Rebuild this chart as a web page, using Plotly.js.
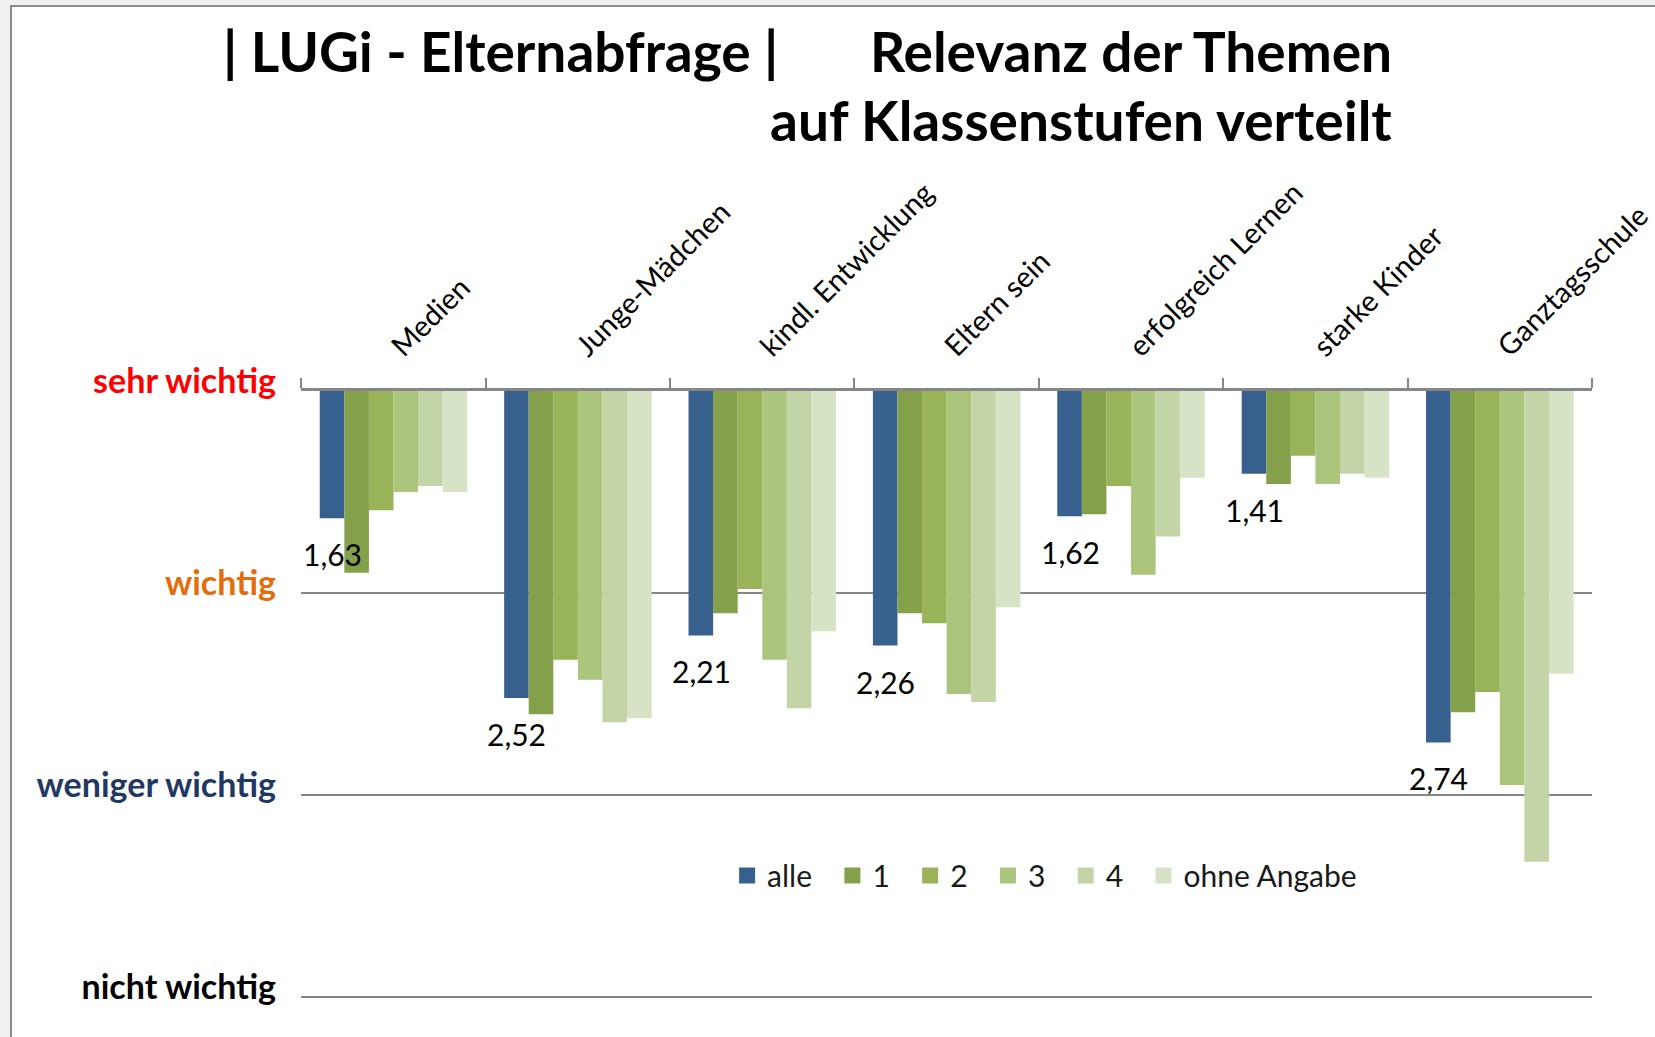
<!DOCTYPE html>
<html>
<head>
<meta charset="utf-8">
<script src="https://cdn.plot.ly/plotly-3.0.1.min.js"></script>
<style>
    html, body { margin: 0; padding: 0; background: #f0f0f0; overflow: hidden; }
    #chart {
        position: absolute; left: 10px; top: 5px;
        border-left: 2px solid #8c8c8c; border-top: 2px solid #8c8c8c;
        background: #fff;
    }
</style>
</head>
<body>
<div id="chart"></div>
<script>
// Themen (Kategorien) und Serien
const categories = ['Medien', 'Junge-Mädchen', 'kindl. Entwicklung', 'Eltern sein', 'erfolgreich Lernen', 'starke Kinder', 'Ganztagsschule'];
const seriesNames = ['alle', '1', '2', '3', '4', 'ohne Angabe'];
const seriesColors = ['#37608f', '#84a04b', '#98b358', '#acc57c', '#c3d4a6', '#d7e3c5'];

// Mittelwerte (1 = sehr wichtig ... 4 = nicht wichtig)
const alle       = [1.63, 2.52, 2.21, 2.26, 1.62, 1.41, 2.74];
const stufe1     = [1.90, 2.60, 2.10, 2.10, 1.61, 1.46, 2.59];
const stufe2     = [1.59, 2.33, 1.98, 2.15, 1.47, 1.32, 2.49];
const stufe3     = [1.50, 2.43, 2.33, 2.50, 1.91, 1.46, 2.95];
const stufe4     = [1.47, 2.64, 2.57, 2.54, 1.72, 1.41, 3.33];
const ohneAngabe = [1.50, 2.62, 2.19, 2.07, 1.43, 1.43, 2.40];

// Achsenbeschriftung links
const levelValues = [1, 2, 3, 4];
const levelLabels = ['sehr wichtig', 'wichtig', 'weniger wichtig', 'nicht wichtig'];
const levelColors = ['#ff0000', '#e46c0a', '#1f3864', '#000000'];

const FONT = 'Lato, "Open Sans", sans-serif';

document.addEventListener('DOMContentLoaded', () => {
    drawChart();
});

function drawChart() {
    const allSeries = [alle, stufe1, stufe2, stufe3, stufe4, ohneAngabe];

    // Balken hängen von "sehr wichtig" (1) nach unten
    const bars = allSeries.map((values, i) => ({
        type: 'bar',
        name: seriesNames[i],
        x: categories,
        y: values.map(v => v - 1),
        base: 1,
        marker: { color: seriesColors[i], line: { width: 0 } },
        showlegend: false,
        hoverinfo: 'skip'
    }));

    // Legende mit größeren Quadraten (leere Spuren), etwas mehr Abstand
    const lastIndex = seriesNames.length - 1;
    const legendItems = seriesNames.map((name, i) => ({
        type: 'scatter',
        mode: 'markers',
        name: i < lastIndex ? name + '\u00a0\u00a0' : name,
        x: [null],
        y: [null],
        marker: { symbol: 'square', size: 16, color: seriesColors[i] },
        showlegend: true,
        hoverinfo: 'skip'
    }));

    // Wertebeschriftung nur für "alle"
    const valueLabels = categories.map((cat, i) => ({
        x: cat,
        y: alle[i],
        xref: 'x',
        yref: 'y',
        text: alle[i].toFixed(2).replace('.', ','),
        showarrow: false,
        xshift: -61,
        yshift: -36,
        font: { family: FONT, size: 30, color: '#000' }
    }));

    const titleFont = { family: FONT, size: 55, color: '#000' };
    const titles = [
        { text: '<b>| LUGi - Elternabfrage |</b>', x: -0.062, y: 1.56, xanchor: 'left' },
        { text: '<b>Relevanz der Themen</b>', x: 0.8467, y: 1.56, xanchor: 'right' },
        { text: '<b>auf Klassenstufen verteilt</b>', x: 0.8467, y: 1.445, xanchor: 'right' }
    ].map(t => Object.assign({
        xref: 'paper', yref: 'paper', yanchor: 'middle',
        showarrow: false, font: titleFont
    }, t));

    const layout = {
        width: 1643,
        height: 1030,
        margin: { l: 289, r: 63, t: 384, b: 38 },
        paper_bgcolor: '#ffffff',
        plot_bgcolor: '#ffffff',
        font: { family: FONT, color: '#000' },
        barmode: 'group',
        bargap: 0.2,
        bargroupgap: 0,
        showlegend: true,
        legend: {
            orientation: 'h',
            x: 0.576,
            xanchor: 'center',
            y: 0.203,
            yanchor: 'middle',
            bgcolor: 'rgba(0,0,0,0)',
            font: { family: FONT, size: 30, color: '#1a1a1a' },
            itemsizing: 'trace',
            traceorder: 'normal'
        },
        xaxis: {
            type: 'category',
            side: 'top',
            showline: true,
            linecolor: '#868686',
            linewidth: 3,
            ticks: 'outside',
            tickson: 'boundaries',
            ticklen: 10,
            tickwidth: 2,
            tickcolor: '#868686',
            tickangle: -45,
            ticklabelstandoff: 14,
            tickfont: { family: FONT, size: 29, color: '#000' },
            showgrid: false,
            zeroline: false,
            fixedrange: true
        },
        yaxis: {
            range: [4.01, 1],
            tickvals: levelValues,
            ticktext: levelLabels.map((t, i) => `<span style="color:${levelColors[i]}"><b>${t}</b></span>`),
            tickfont: { family: FONT, size: 34 },
            ticks: '',
            ticklabelstandoff: 24,
            ticklabelshift: 10,
            showgrid: true,
            gridcolor: '#868686',
            gridwidth: 2,
            zeroline: false,
            showline: false,
            fixedrange: true
        },
        annotations: titles.concat(valueLabels)
    };

    Plotly.newPlot('chart', bars.concat(legendItems), layout, { displayModeBar: false, staticPlot: true });
}
</script>
</body>
</html>
